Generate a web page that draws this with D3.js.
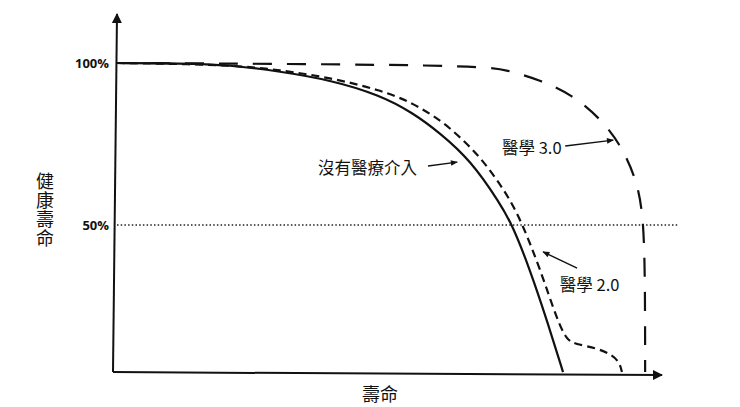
<!DOCTYPE html>
<html>
<head>
  <meta charset="utf-8" />
  <script src="https://d3js.org/d3.v7.min.js"></script>
</head>
<style>
body {
  margin: 0;
  background: #fff;
}
text {
  font-family: "Noto Sans CJK TC", "Noto Sans", sans-serif;
  fill: #111;
}
.tick-label {
  font-family: "Open Sans", sans-serif;
  font-weight: bold;
  font-size: 13px;
}
.y-title {
  writing-mode: vertical-rl;
  text-orientation: upright;
}
</style>
<body>
<div id="viz"></div>
<script>
'use strict';

// curve points: [lifespan (arbitrary 0-100), healthy share %]
const noMedicine = [
  [0, 100], [11.7, 99.9], [20.9, 99.4], [30.2, 97.4], [39.4, 94.8],
  [48.7, 90.1], [54.8, 84.6], [59.8, 78.4], [65.4, 70.1], [70.9, 56.8],
  [73.3, 49.7], [76.5, 36.1], [79.6, 20.7], [82.6, 4.6],
];
const medicine2 = [
  [0, 100], [20.9, 99.5], [30.2, 97.8], [39.4, 95.5], [48.7, 91.7],
  [54.8, 87.7], [60.4, 81.8], [64.1, 76.2], [67.2, 71.0], [70.4, 63.9],
  [72.8, 57.7], [75.0, 50.6], [78.3, 36.7], [81.5, 20.7], [83.3, 14.5],
  [84.8, 13.3], [88.9, 12.0], [91.7, 9.9], [93.1, 7.5], [93.5, 4.6],
];
const medicine3 = [
  [0, 100], [67.2, 99.4], [72.2, 97.8], [78.3, 94.8], [84.4, 90.1],
  [89.4, 83.0], [93.1, 75.3], [96.3, 63.9], [97.6, 51.5], [97.8, 27],
  [97.8, 4.6],
];
const yTicks = [100, 50];
const yTickLabels = ['100%', '50%'];
const baseline = 4.6;
const yTitle = '健康壽命';
const xTitle = '壽命';
const labels = [
  {text: '沒有醫療介入', at: [37.2, 67.6], from: [57.6, 68.2], to: [63.0, 69.4]},
  {text: '醫學 3.0', at: [71.3, 73.8], from: [83.0, 74.4], to: [91.9, 76.2]},
  {text: '醫學 2.0', at: [82.0, 31.5], from: [85.2, 36.7], to: [78.9, 41.7]},
];

const width = 740;
const height = 407;

const x = d3.scaleLinear().domain([0, 100]).range([117, 657]);
const y = d3.scaleLinear().domain([0, 100]).range([387, 63]);

const svg = d3.select('#viz')
  .append('svg')
    .attr('width', width)
    .attr('height', height);

const defs = svg.append('defs');
defs.append('marker')
    .attr('id', 'axhead')
    .attr('viewBox', '0 0 10 10')
    .attr('refX', 9)
    .attr('refY', 5)
    .attr('markerWidth', 5)
    .attr('markerHeight', 5)
    .attr('markerUnits', 'strokeWidth')
    .attr('orient', 'auto')
  .append('path')
    .attr('d', 'M0,0 L10,5 L0,10 z')
    .attr('fill', '#111');
defs.append('marker')
    .attr('id', 'lblhead')
    .attr('viewBox', '0 0 10 10')
    .attr('refX', 9)
    .attr('refY', 5)
    .attr('markerWidth', 6)
    .attr('markerHeight', 5)
    .attr('markerUnits', 'strokeWidth')
    .attr('orient', 'auto')
  .append('path')
    .attr('d', 'M0,1 L10,5 L0,9 z')
    .attr('fill', '#111');

// 50% dotted guide
svg.append('line')
  .attr('x1', x(0)).attr('x2', 678)
  .attr('y1', y(50)).attr('y2', y(50))
  .attr('stroke', '#222')
  .attr('stroke-width', 1.4)
  .attr('stroke-dasharray', '1.5,2.2');

// axes
svg.append('line')
  .attr('x1', x(0) - 4).attr('y1', y(baseline))
  .attr('x2', x(100) + 5).attr('y2', y(baseline) + 3)
  .attr('stroke', '#111')
  .attr('stroke-width', 2)
  .attr('marker-end', 'url(#axhead)');
svg.append('line')
  .attr('x1', x(0) - 4).attr('y1', y(baseline))
  .attr('x2', x(0)).attr('y2', 14)
  .attr('stroke', '#111')
  .attr('stroke-width', 2)
  .attr('marker-end', 'url(#axhead)');

svg.selectAll('.tick-label')
  .data(yTicks)
  .enter()
  .append('text')
    .attr('class', 'tick-label')
    .attr('x', 109)
    .attr('y', d => y(d))
    .attr('dy', '0.36em')
    .attr('text-anchor', 'end')
    .text((d, i) => yTickLabels[i]);

// vertical y title
svg.append('text')
  .attr('class', 'y-title')
  .attr('x', 45)
  .attr('y', 172)
  .attr('font-size', 18)
  .attr('letter-spacing', 1)
  .text(yTitle);

svg.append('text')
  .attr('x', 380)
  .attr('y', 401)
  .attr('text-anchor', 'middle')
  .attr('font-size', 18)
  .text(xTitle);

const line = d3.line()
  .x(d => x(d[0]))
  .y(d => y(d[1]))
  .curve(d3.curveBasis);

svg.append('path')
  .datum(medicine3)
  .attr('d', line)
  .attr('fill', 'none')
  .attr('stroke', '#111')
  .attr('stroke-width', 2.2)
  .attr('stroke-dasharray', '19,15');

svg.append('path')
  .datum(medicine2)
  .attr('d', line)
  .attr('fill', 'none')
  .attr('stroke', '#111')
  .attr('stroke-width', 2.2)
  .attr('stroke-dasharray', '8,5');

svg.append('path')
  .datum(noMedicine)
  .attr('d', line)
  .attr('fill', 'none')
  .attr('stroke', '#111')
  .attr('stroke-width', 2.2);

// annotations
const ann = svg.append('g');
ann.selectAll('text')
  .data(labels)
  .enter()
  .append('text')
    .attr('x', d => x(d.at[0]))
    .attr('y', d => y(d.at[1]))
    .attr('dy', '0.35em')
    .attr('font-size', 16.5)
    .text(d => d.text);
ann.selectAll('line')
  .data(labels)
  .enter()
  .append('line')
    .attr('x1', d => x(d.from[0]))
    .attr('y1', d => y(d.from[1]))
    .attr('x2', d => x(d.to[0]))
    .attr('y2', d => y(d.to[1]))
    .attr('stroke', '#111')
    .attr('stroke-width', 1.4)
    .attr('marker-end', 'url(#lblhead)');
</script>
</body>
</html>
